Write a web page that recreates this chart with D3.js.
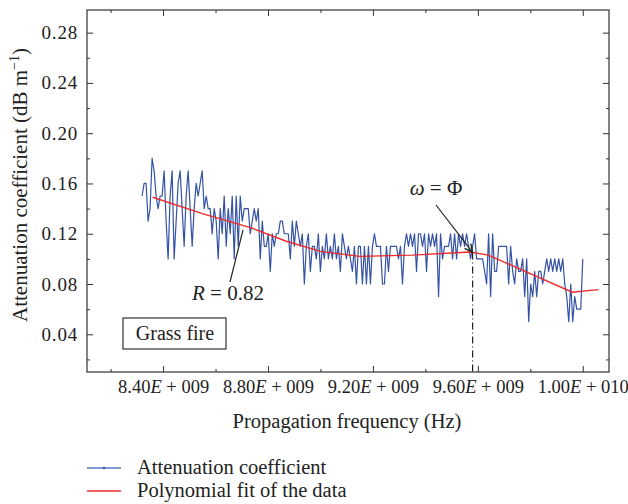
<!DOCTYPE html>
<html>
<head>
<meta charset="utf-8">
<script src="https://cdn.jsdelivr.net/npm/d3@7"></script>
<style>
    body { margin: 0; background: #fff; }
    svg { font-family: "Liberation Serif", "DejaVu Serif", serif; }
</style>
</head>
<body>
<svg id="chart" width="628" height="504"></svg>
<script>
// Data
const freqStart = 8.32e9;
const freqEnd = 1.0e10;
const attenuation = [
    0.15, 0.16, 0.16, 0.13, 0.14, 0.18, 0.17, 0.15, 0.14, 0.15, 0.15, 0.17, 0.13, 0.10, 0.15, 0.17, 0.10, 0.13, 0.16, 0.17,
    0.14, 0.11, 0.15, 0.17, 0.14, 0.11, 0.14, 0.16, 0.15, 0.16, 0.17, 0.14, 0.15, 0.14, 0.14, 0.12, 0.14, 0.13, 0.10, 0.14,
    0.12, 0.15, 0.11, 0.14, 0.12, 0.15, 0.10, 0.15, 0.11, 0.15, 0.13, 0.14, 0.14, 0.14, 0.12, 0.13,
    0.14, 0.13, 0.14, 0.10, 0.13, 0.11, 0.11, 0.12, 0.09, 0.12, 0.11, 0.12, 0.12, 0.13, 0.13, 0.12, 0.12, 0.12, 0.10, 0.13,
    0.11, 0.13, 0.12, 0.11, 0.12, 0.08, 0.11, 0.12, 0.09, 0.11, 0.11, 0.10, 0.12, 0.09, 0.11, 0.10, 0.12, 0.10, 0.11, 0.10,
    0.12, 0.10, 0.11, 0.09, 0.12, 0.11, 0.10, 0.11, 0.10, 0.09, 0.11, 0.08, 0.11,
    0.11, 0.08, 0.11, 0.08, 0.11, 0.08, 0.11, 0.12, 0.11, 0.11, 0.11, 0.08, 0.08, 0.11, 0.09, 0.11, 0.11, 0.11, 0.11, 0.10,
    0.11, 0.08, 0.11, 0.12, 0.11, 0.12, 0.11, 0.12, 0.09, 0.12, 0.12, 0.11, 0.12, 0.09, 0.12, 0.11, 0.12, 0.11, 0.12, 0.07,
    0.12, 0.10, 0.11, 0.11, 0.11, 0.12, 0.10, 0.12, 0.10, 0.12, 0.11, 0.12, 0.11, 0.12, 0.11, 0.10,
    0.11, 0.12, 0.10, 0.10, 0.10, 0.10, 0.09, 0.08, 0.12, 0.07, 0.12, 0.09, 0.09, 0.11, 0.11, 0.11, 0.11, 0.11, 0.08, 0.11,
    0.09, 0.08, 0.10, 0.09, 0.09, 0.10, 0.07, 0.10, 0.05, 0.08, 0.07, 0.09, 0.07, 0.09, 0.09, 0.08, 0.09, 0.10, 0.09, 0.10,
    0.09, 0.10, 0.09, 0.10, 0.09, 0.10, 0.08, 0.07, 0.05, 0.08, 0.05, 0.07, 0.06, 0.06, 0.06, 0.10
];
const fitFreq = [8.36e9, 8.55e9, 8.73e9, 8.87e9, 9.0e9, 9.15e9, 9.35e9, 9.57e9, 9.64e9, 9.96e9, 10.06e9];
const fitValue = [0.149, 0.136, 0.125, 0.114, 0.106, 0.102, 0.103, 0.1055, 0.103, 0.0735, 0.0755];

const xMajor = [8.4e9, 8.8e9, 9.2e9, 9.6e9, 1.0e10];
const xMinor = [8.2e9, 8.6e9, 9.0e9, 9.4e9, 9.8e9];
const xLabels = ["8.40E + 009", "8.80E + 009", "9.20E + 009", "9.60E + 009", "1.00E + 010"];
const yMajor = [0.04, 0.08, 0.12, 0.16, 0.20, 0.24, 0.28];
const yMinor = [0.02, 0.06, 0.10, 0.14, 0.18, 0.22, 0.26];
const markerFreq = 9.58e9;

// Layout
const mLeft = 87, mRight = 609, mTop = 10, mBottom = 372;
const svg = d3.select("#chart");

const x = d3.scaleLinear().domain([8.11e9, 1.01e10]).range([mLeft, mRight]);
const y = d3.scaleLinear().domain([0.01, 0.298]).range([mBottom, mTop]);

const points = attenuation.map((v, i) => ({
    f: freqStart + i * (freqEnd - freqStart) / (attenuation.length - 1),
    v: v
}));
const fit = fitFreq.map((f, i) => ({ f: f, v: fitValue[i] }));

// Frame
svg.append("rect")
    .attr("x", mLeft).attr("y", mTop)
    .attr("width", mRight - mLeft).attr("height", mBottom - mTop)
    .attr("fill", "none").attr("stroke", "#333").attr("stroke-width", 1.2);

// Axes with inward ticks
function noLabels(g) { g.selectAll("text").remove(); g.select(".domain").remove(); }

svg.append("g").attr("transform", `translate(0,${mBottom})`)
    .call(d3.axisBottom(x).tickValues(xMinor).tickSize(-3)).call(noLabels);
svg.append("g").attr("transform", `translate(0,${mTop})`)
    .call(d3.axisTop(x).tickValues(xMinor).tickSize(-3)).call(noLabels);
svg.append("g").attr("transform", `translate(0,${mTop})`)
    .call(d3.axisTop(x).tickValues(xMajor).tickSize(-6)).call(noLabels);

const xAxis = svg.append("g").attr("transform", `translate(0,${mBottom})`)
    .call(d3.axisBottom(x).tickValues(xMajor).tickSize(-6).tickPadding(8).tickFormat((d, i) => xLabels[i]));
xAxis.select(".domain").remove();
xAxis.selectAll("text").each(function(d, i) {
    const parts = xLabels[i].split("E");
    const t = d3.select(this).text(null)
        .attr("font-size", 18.5).attr("fill", "#222")
        .attr("font-family", "Liberation Serif, serif");
    t.append("tspan").text(parts[0]);
    t.append("tspan").attr("font-style", "italic").text("E");
    t.append("tspan").text(parts[1]);
});

svg.append("g").attr("transform", `translate(${mLeft},0)`)
    .call(d3.axisLeft(y).tickValues(yMinor).tickSize(-3)).call(noLabels);
svg.append("g").attr("transform", `translate(${mRight},0)`)
    .call(d3.axisRight(y).tickValues(yMinor).tickSize(-3)).call(noLabels);
svg.append("g").attr("transform", `translate(${mRight},0)`)
    .call(d3.axisRight(y).tickValues(yMajor).tickSize(-6)).call(noLabels);

const yAxis = svg.append("g").attr("transform", `translate(${mLeft},0)`)
    .call(d3.axisLeft(y).tickValues(yMajor).tickSize(-6).tickPadding(9).tickFormat(d3.format(".2f")));
yAxis.select(".domain").remove();
yAxis.selectAll("text").attr("font-size", 19).attr("fill", "#222")
    .attr("letter-spacing", 0.8)
    .attr("font-family", "Liberation Serif, serif");

svg.selectAll(".tick line").attr("stroke", "#333");

// Axis titles
svg.append("text")
    .attr("x", 347).attr("y", 428)
    .attr("text-anchor", "middle").attr("font-size", 20.5).attr("fill", "#222")
    .text("Propagation frequency (Hz)");

const yTitle = svg.append("text")
    .attr("transform", `translate(27,185) rotate(-90)`)
    .attr("text-anchor", "middle").attr("font-size", 21).attr("fill", "#222");
yTitle.append("tspan").text("Attenuation coefficient (dB m");
yTitle.append("tspan").attr("font-size", 14).attr("dy", -8).text("\u22121");
yTitle.append("tspan").attr("dy", 8).text(")");

// Data line
svg.append("path")
    .datum(points)
    .attr("fill", "none")
    .attr("stroke", "#3553a6")
    .attr("stroke-width", 1.2)
    .attr("stroke-linejoin", "round")
    .attr("d", d3.line().x(d => x(d.f)).y(d => y(d.v)));

// Polynomial fit
svg.append("path")
    .datum(fit)
    .attr("fill", "none")
    .attr("stroke", "#ee2a2a")
    .attr("stroke-width", 1.4)
    .attr("d", d3.line().x(d => x(d.f)).y(d => y(d.v)));

// Dash-dot marker line
const fitAtMarker = d3.scaleLinear().domain(fitFreq).range(fitValue)(markerFreq);
svg.append("line")
    .attr("x1", x(markerFreq)).attr("x2", x(markerFreq))
    .attr("y1", y(fitAtMarker)).attr("y2", mBottom)
    .attr("stroke", "#222").attr("stroke-width", 1.2)
    .attr("stroke-dasharray", "7,3,1,3");

// Annotations
svg.append("line")
    .attr("x1", 243).attr("y1", 230).attr("x2", 230).attr("y2", 282)
    .attr("stroke", "#222").attr("stroke-width", 1.2);
const rText = svg.append("text").attr("x", 192).attr("y", 300)
    .attr("font-size", 21).attr("fill", "#222");
rText.append("tspan").attr("font-style", "italic").text("R");
rText.append("tspan").text(" = 0.82");

const ax = x(markerFreq), ay = y(fitAtMarker);
svg.append("line")
    .attr("x1", 436).attr("y1", 205).attr("x2", ax).attr("y2", ay)
    .attr("stroke", "#222").attr("stroke-width", 1.2);
const ang = Math.atan2(ay - 205, ax - 436);
[-0.45, 0.45].forEach(a => {
    svg.append("line")
        .attr("x1", ax).attr("y1", ay)
        .attr("x2", ax - 9 * Math.cos(ang + a)).attr("y2", ay - 9 * Math.sin(ang + a))
        .attr("stroke", "#222").attr("stroke-width", 1.4);
});
const wText = svg.append("text").attr("x", 436).attr("y", 195)
    .attr("text-anchor", "middle").attr("font-size", 21).attr("fill", "#222");
wText.append("tspan").attr("font-style", "italic").text("\u03c9");
wText.append("tspan").text(" = \u03a6");

// Grass fire box
svg.append("rect")
    .attr("x", 123).attr("y", 318).attr("width", 103).attr("height", 31)
    .attr("fill", "#fff").attr("stroke", "#333").attr("stroke-width", 1.2);
svg.append("text")
    .attr("x", 175).attr("y", 340)
    .attr("text-anchor", "middle").attr("font-size", 20).attr("fill", "#222")
    .text("Grass fire");

// Legend
const legend = svg.append("g");
legend.append("line").attr("x1", 87).attr("x2", 121).attr("y1", 468).attr("y2", 468)
    .attr("stroke", "#5a78c4").attr("stroke-width", 1.4);
legend.append("circle").attr("cx", 104).attr("cy", 468).attr("r", 1.3).attr("fill", "#3553a6");
legend.append("text").attr("x", 137).attr("y", 474)
    .attr("font-size", 20.5).attr("fill", "#222").text("Attenuation coefficient");
legend.append("line").attr("x1", 87).attr("x2", 121).attr("y1", 491).attr("y2", 491)
    .attr("stroke", "#ee2a2a").attr("stroke-width", 1.4);
legend.append("text").attr("x", 137).attr("y", 497)
    .attr("font-size", 20.5).attr("fill", "#222").text("Polynomial fit of the data");
</script>
</body>
</html>
